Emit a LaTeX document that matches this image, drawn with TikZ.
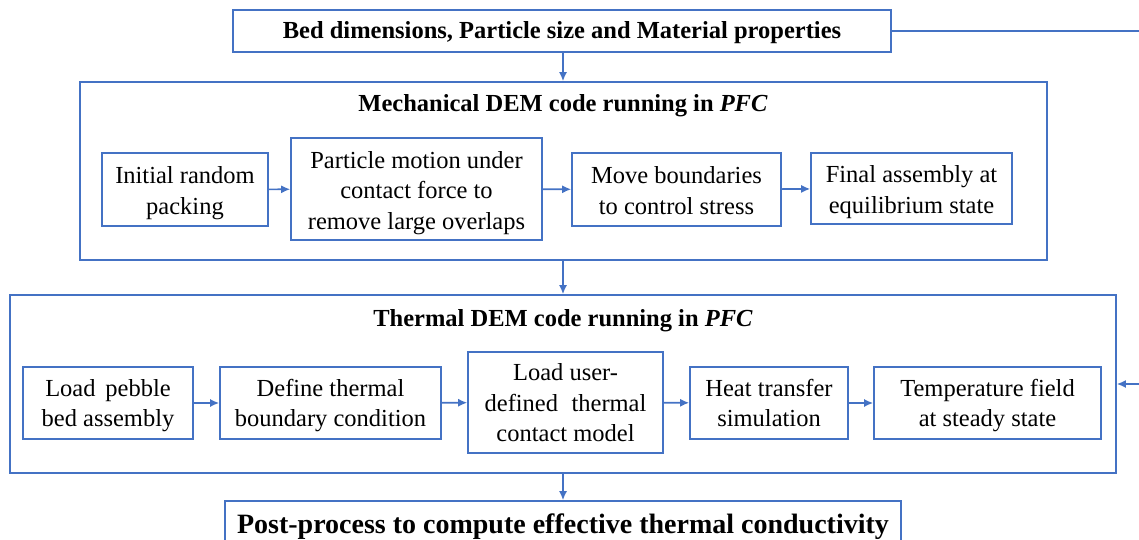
\documentclass[tikz,border=0pt]{standalone}
\usepackage{fontspec}
\setmainfont{Liberation Serif}
\usetikzlibrary{arrows.meta}
\definecolor{boxblue}{RGB}{68,114,196}
\newcommand\btxt[2][3.5pt]{\raisebox{-#1}[\height][\depth]{\begin{tabular}{@{}c@{}}#2\end{tabular}}}
\begin{document}
\begin{tikzpicture}[x=1pt,y=-1pt,
  box/.style={draw=boxblue,line width=1.6pt,inner sep=0pt,align=center,
    font=\fontsize{24.5}{30.5}\selectfont},
  frame/.style={draw=boxblue,line width=1.6pt,inner sep=0pt},
  title/.style={font=\fontsize{24.5}{29.5}\selectfont\bfseries,inner sep=0pt},
  arr/.style={draw=boxblue,line width=1.6pt,-{Latex[length=9pt,width=8pt]}}]
\useasboundingbox (0,0) rectangle (1139,540);
\clip (0,0) rectangle (1139,540);
% top box
\node[box,font=\fontsize{24.5}{29.5}\selectfont\bfseries,minimum width=658pt,minimum height=42pt] (top) at (562,31)
  {\raisebox{-2pt}[\height][\depth]{Bed dimensions, Particle size and Material properties}};
% mechanical frame
\node[frame,minimum width=967pt,minimum height=178pt] (mech) at (563.5,171) {};
\node[title,text depth=0pt] (mtitle) at (563,103) {Mechanical DEM code running in \textit{PFC}};
\node[box,minimum width=166pt,minimum height=73pt] (b1) at (185,189.5) {\btxt{Initial random\\packing}};
\node[box,minimum width=251pt,minimum height=102pt] (b2) at (416.5,189) {\btxt{Particle motion under\\contact force to\\remove large overlaps}};
\node[box,minimum width=209pt,minimum height=73pt] (b3) at (676.5,189.5) {\btxt{Move boundaries\\to control stress}};
\node[box,minimum width=201pt,minimum height=71pt] (b4) at (911.5,188.5) {\btxt{Final assembly at\\equilibrium state}};
% thermal frame
\node[frame,minimum width=1106pt,minimum height=178pt] (therm) at (563,384) {};
\node[title,text depth=0pt] (ttitle) at (563,318) {Thermal DEM code running in \textit{PFC}};
\node[box,minimum width=170pt,minimum height=72pt] (t1) at (108,403) {\btxt[2.5pt]{Load\hspace{0.4em}pebble\\bed assembly}};
\node[box,minimum width=221pt,minimum height=72pt] (t2) at (330.5,403) {\btxt[2.5pt]{Define thermal\\boundary condition}};
\node[box,minimum width=195pt,minimum height=101pt] (t3) at (565.5,402.5) {\btxt[2.5pt]{Load user-\\defined\hspace{0.3em} thermal\\contact model}};
\node[box,minimum width=158pt,minimum height=72pt] (t4) at (769,403) {\btxt[2.5pt]{Heat transfer\\simulation}};
\node[box,minimum width=227pt,minimum height=72pt] (t5) at (987.5,403) {\btxt[2.5pt]{Temperature field\\at steady state}};
% post-process
\node[box,font=\fontsize{28}{33}\selectfont\bfseries,minimum width=676pt,minimum height=52pt] (post) at (563,527)
  {Post-process to compute effective thermal conductivity};
% connectors
\draw[arr] (top.south -| mtitle) -- (mech.north -| mtitle);
\draw[arr] (b1) -- (b2);
\draw[arr] (b2) -- (b3);
\draw[arr] (b3) -- (b4);
\draw[arr] (mech.south -| mtitle) -- (therm.north -| mtitle);
\draw[arr] (t1) -- (t2);
\draw[arr] (t2) -- (t3);
\draw[arr] (t3) -- (t4);
\draw[arr] (t4) -- (t5);
\draw[arr] (therm.south -| mtitle) -- (post.north -| mtitle);
\coordinate (fb) at (1160,31);
\draw[arr] (top.east) -- (fb) |- (therm.east);
\end{tikzpicture}
\end{document}
